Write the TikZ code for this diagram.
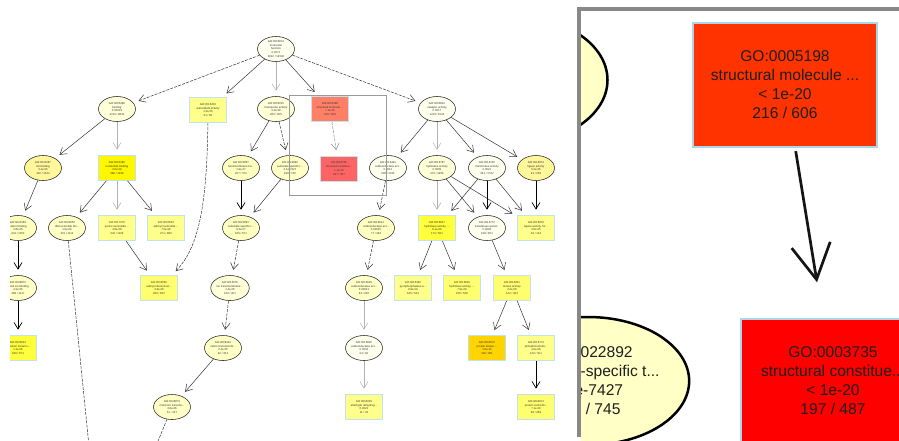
\documentclass[tikz,border=0pt]{standalone}
\usepackage{fontspec}
\setmainfont{Liberation Sans}
\usetikzlibrary{arrows.meta,shapes.geometric}

\definecolor{lblue}{HTML}{C4E2EC}
\definecolor{rblue}{HTML}{A9D6E8}
\definecolor{ycream}{HTML}{FFFFEE}
\definecolor{ylight}{HTML}{FFFFD8}
\definecolor{ymid}{HTML}{FFFFC0}
\definecolor{yell}{HTML}{FFF79A}
\definecolor{ybox}{HTML}{FFFF8C}
\definecolor{ybox2}{HTML}{FFFF70}
\definecolor{ybright}{HTML}{FFF700}
\definecolor{ybright2}{HTML}{FFFF3C}
\definecolor{gogold}{HTML}{FFD400}
\definecolor{gosalmon}{HTML}{FF8066}
\definecolor{golred}{HTML}{FF6464}
\definecolor{rorange}{HTML}{FF3300}
\definecolor{rred}{HTML}{FF0000}
\definecolor{rcream}{HTML}{FFFFC6}
\definecolor{framegray}{HTML}{888888}
\definecolor{markgray}{HTML}{9A9A9A}

\tikzset{
  gotxt/.style={font=\fontsize{2.8}{3.8}\selectfont, align=center, text=black!80, inner sep=0pt},
  tell/.style={gotxt, ellipse, draw=black!85, line width=0.55pt, minimum width=37pt, minimum height=25pt},
  tbox/.style={gotxt, rectangle, draw=lblue, line width=0.8pt, minimum width=37pt, minimum height=25pt},
  lnk/.style={draw=black!80, line width=0.5pt, -{Straight Barb[length=6.5pt,width=8pt]}, shorten >=5.5pt},
  lnkfaint/.style={lnk, draw=black!30},
  lnkdark/.style={lnk, draw=black, line width=0.7pt},
  lnkdash/.style={lnk, dash pattern=on 3pt off 1.2pt},
  bigtxt/.style={font=\fontsize{15.6}{19}\selectfont, align=center, text=black!88, inner sep=0pt},
  bigbox/.style={bigtxt, rectangle, draw=rblue, line width=2.4pt, minimum width=184pt, minimum height=124pt},
  bigell/.style={bigtxt, ellipse, draw=black, line width=2.5pt, fill=rcream, minimum width=189pt, minimum height=128pt},
  biglnk/.style={draw=black!92, line width=2.7pt, -{Straight Barb[length=35pt,width=39pt]}, shorten >=36pt, shorten <=3pt},
}

\begin{document}
\begin{tikzpicture}[x=1pt,y=-1pt]
\useasboundingbox (0,0) rectangle (899,440);

% ---------------- overview of the whole graph ----------------
\begin{scope}
\clip (10,0) rectangle (572,440);

% level 1
\node[tell, fill=ycream] (root) at (276,49) {GO:0003674\\molecular\\function\\0.0071\\3012 / 14540};
% level 2
\node[tell, fill=ylight] (n1) at (117,109) {GO:0005488\\binding\\0.00219\\1720 / 9832};
\node[tbox, fill=ybox] (n2) at (208,110) {GO:0016209\\antioxidant activity\\1.2e-05\\31 / 96};
\node[tell, fill=ylight] (n3) at (276,109) {GO:0005215\\transporter activity\\4.4e-08\\262 / 905};
\node[tbox, fill=gosalmon] (n4) at (330,109) {GO:0005198\\structural molecule ...\\< 1e-20\\216 / 606};
\node[tell, fill=ycream] (n5) at (437,109) {GO:0003824\\catalytic activity\\0.0017\\1419 / 6124};
% level 3
\node[tell, fill=yell] (n6) at (43,168) {GO:0043167\\ion binding\\3.1e-06\\412 / 1544};
\node[tbox, fill=ybright] (n7) at (117,168) {GO:0000166\\nucleotide binding\\2.0e-09\\398 / 1299};
\node[tell, fill=ymid] (n8) at (241,168) {GO:0022857\\transmembrane tra...\\1.9e-07\\207 / 702};
\node[tell, fill=rcream] (n9) at (290,168) {GO:0022892\\substrate-specific t...\\2.1e-7427\\196 / 745};
\node[tbox, fill=golred] (n10) at (339,168.5) {GO:0003735\\structural constitue...\\< 1e-20\\197 / 487};
\node[tell, fill=ycream] (n11) at (388,168) {GO:0016491\\oxidoreductase act...\\0.0012\\280 / 1133};
\node[tell, fill=ylight] (n12) at (437,168) {GO:0016787\\hydrolase activity\\0.0009\\470 / 1966};
\node[tell, fill=ycream] (n13) at (487,168) {GO:0016740\\transferase activity\\0.0021\\391 / 1702};
\node[tell, fill=yell] (n14) at (536,168) {GO:0016874\\ligase activity\\5.2e-06\\91 / 258};
% level 4
\node[tell, fill=ymid] (n15) at (18,228) {GO:0043169\\cation binding\\2.6e-05\\301 / 1150};
\node[tell, fill=rcream] (n16) at (67,228) {GO:0032553\\ribonucleotide bin...\\1.0e-06\\331 / 1112};
\node[tbox, fill=ybox] (n17) at (117,228) {GO:0017076\\purine nucleotide ...\\4.8e-08\\342 / 1109};
\node[tbox, fill=ybox] (n18) at (166,228) {GO:0030554\\adenyl nucleotide ...\\7.5e-08\\271 / 860};
\node[tell, fill=ymid] (n19) at (241,228) {GO:0022891\\substrate-specific t...\\9.3e-07\\166 / 571};
\node[tell, fill=ymid] (n20) at (376,228) {GO:0016614\\oxidoreductase act...\\0.00035\\77 / 284};
\node[tbox, fill=ybright2] (n21) at (437,228) {GO:0016817\\hydrolase activity, ...\\6.1e-09\\172 / 561};
\node[tell, fill=ycream] (n22) at (487,228) {GO:0016772\\transferase activit...\\0.0026\\198 / 851};
\node[tbox, fill=ybox] (n23) at (536,228) {GO:0016879\\ligase activity, for...\\3.0e-05\\49 / 134};
% level 5
\node[tell, fill=rcream] (n24) at (18,288) {GO:0046872\\metal ion binding\\4.2e-05\\289 / 1117};
\node[tbox, fill=ybox2] (n25) at (159,288) {GO:0032559\\adenyl ribonucleot...\\3.3e-08\\266 / 842};
\node[tell, fill=ylight] (n26) at (230,288) {GO:0015075\\ion transmembrane ...\\1.4e-06\\120 / 401};
\node[tell, fill=rcream] (n27) at (364,288) {GO:0016616\\oxidoreductase act...\\0.00041\\63 / 230};
\node[tbox, fill=ybox] (n28) at (413,288) {GO:0016462\\pyrophosphatase a...\\8.8e-09\\165 / 534};
\node[tbox, fill=ybox2] (n29) at (462,288) {GO:0016818\\hydrolase activity, ...\\7.9e-09\\166 / 538};
\node[tbox, fill=ybox2] (n30) at (512,288) {GO:0016301\\kinase activity\\2.2e-06\\142 / 463};
% level 6
\node[tbox, fill=ybright2] (n31) at (18,348) {GO:0046914\\transition metal io...\\1.1e-06\\188 / 674};
\node[tell, fill=rcream] (n32) at (223,348) {GO:0008324\\cation transmembr...\\2.4e-06\\92 / 301};
\node[tell, fill=ycream] (n33) at (364,348) {GO:0016620\\oxidoreductase act...\\0.0034\\24 / 92};
\node[tbox, fill=gogold] (n34) at (487,348) {GO:0004672\\protein kinase ...\\1.5e-10\\118 / 351};
\node[tbox, fill=ybox] (n35) at (536,348) {GO:0016773\\phosphotransfer...\\4.0e-06\\120 / 401};
% level 7
\node[tell, fill=rcream] (n36) at (172,407) {GO:0046873\\metal ion transme...\\3.6e-06\\51 / 157};
\node[tbox, fill=ybox] (n37) at (364,407) {GO:0004029\\aldehyde dehydrog...\\0.0021\\11 / 33};
\node[tbox, fill=ybox2] (n38) at (536,407) {GO:0004674\\protein serine/th...\\7.1e-08\\96 / 289};

% edges leaving the lower edge of the view
\coordinate (out1) at (89,446);
\coordinate (out2) at (156,446);

\draw[lnkdash]  (root) -- (n1);
\draw[lnk]      (root) -- (n2);
\draw[lnkfaint] (root) -- (n3);
\draw[lnk]      (root) -- (n4);
\draw[lnkdash]  (root) -- (n5);

\draw[lnk]      (n1) -- (n6);
\draw[lnkfaint] (n1) -- (n7);
\draw[lnk]      (n3) -- (n8);
\draw[lnkdash]  (n3) -- (n9);
\draw[lnkdash, draw=black!45] (n4) -- (n10);
\draw[lnk]      (n5) -- (n11);
\draw[lnkfaint] (n5) -- (n12);
\draw[lnk]      (n5) -- (n13);
\draw[lnk]      (n5) -- (n14);

\draw[lnk]      (n6) -- (n15);
\draw[lnk]      (n7) -- (n16);
\draw[lnkfaint] (n7) -- (n17);
\draw[lnk]      (n7) -- (n18);
\draw[lnkdark]  (n8) -- (n19);
\draw[lnk]      (n9) -- (n19);
\draw[lnkdash]  (n11) -- (n20);
\draw[lnkfaint] (n12) -- (n21);
\draw[lnk]      (n12) -- (n22);
\draw[lnk]      (n12) -- (n23);
\draw[lnk]      (n13) -- (n21);
\draw[lnkdark]  (n13) -- (n22);
\draw[lnk]      (n13) -- (n23);
\draw[lnkdark]  (n14) -- (n23);

\draw[lnkdark]  (n15) -- (n24);
\draw[lnkdash, -] (n16) -- (out1);
\draw[lnk]      (n17) -- (n25);
\draw[lnkdash]  (n2) .. controls (207,215) and (196,250) .. (n25.45);
\draw[lnkdash]  (n19) -- (n26);
\draw[lnkdash]  (n20) -- (n27);
\draw[lnk]      (n21) -- (n28);
\draw[lnk]      (n21) -- (n29);
\draw[lnk]      (n22) -- (n30);

\draw[lnkdark]  (n24) -- (n31);
\draw[lnkdash]  (n26) -- (n32);
\draw[lnkfaint] (n27) -- (n33);
\draw[lnk]      (n30) -- (n34);
\draw[lnk]      (n30) -- (n35);

\draw[lnk]      (n32) -- (n36);
\draw[lnkfaint] (n33) -- (n37);
\draw[lnkdark]  (n35) -- (n38);
\draw[lnkdash, -] (n36) -- (out2);

% region shown in the magnified view
\draw[markgray, line width=1pt] (289.3,95) rectangle (386.7,195.7);
\end{scope}

% ---------------- magnified view ----------------
\begin{scope}
\clip (581,11) rectangle (899,440);
\node[bigell] (m3) at (513,80) {};
\node[bigell] (m9) at (588,381) {GO:0022892\\substrate-specific t...\\2.1e-7427\\196 / 745};
\node[bigbox, fill=rorange] (m4) at (785,85) {GO:0005198\\structural molecule ...\\< 1e-20\\216 / 606};
\node[bigbox, fill=rred] (m10) at (833,381) {GO:0003735\\structural constitue...\\< 1e-20\\197 / 487};
\draw[biglnk] (m4) -- (m10);
\end{scope}

% frame of the magnified view
\fill[framegray] (577,7) rectangle (899,11);
\fill[framegray] (577,7) rectangle (581,437);
\end{tikzpicture}
\end{document}
